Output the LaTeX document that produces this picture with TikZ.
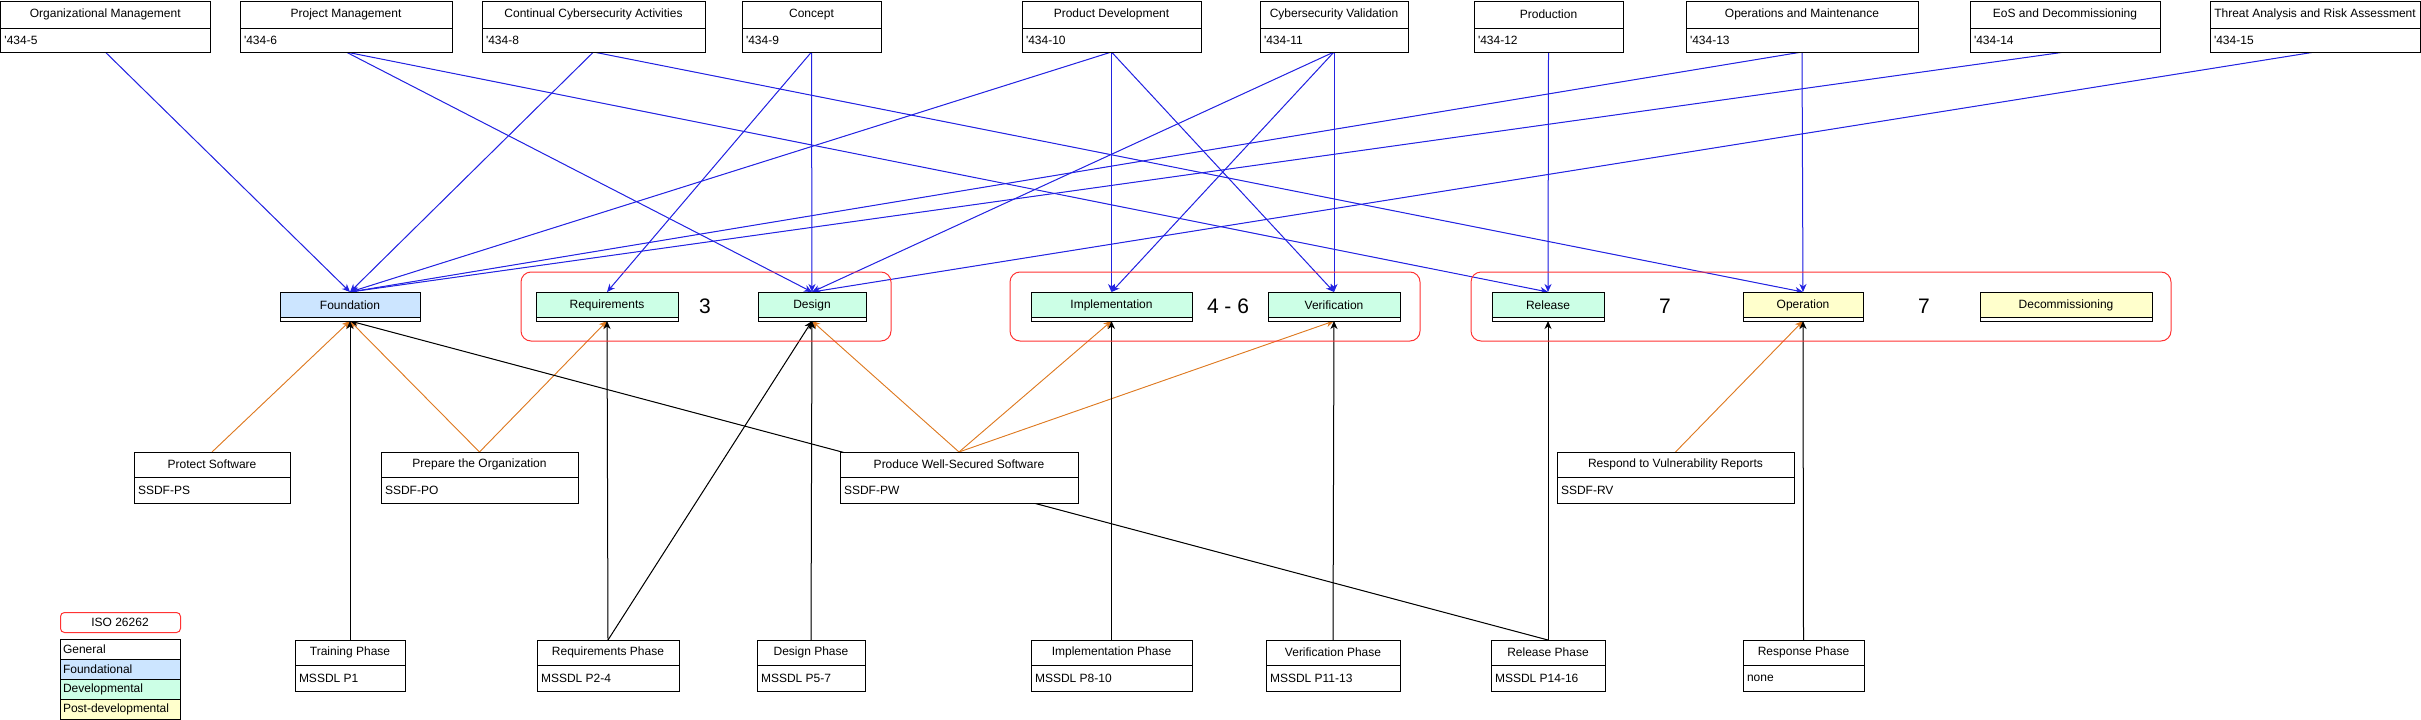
\documentclass[tikz,border=0pt]{standalone}
\usepackage{fontspec}
\setmainfont{Liberation Sans}[Ligatures=TeXOff]
\usetikzlibrary{arrows.meta}
\pgfdeclarelayer{background}
\pgfsetlayers{background,main}
\definecolor{fblue}{HTML}{CCE5FF}
\definecolor{fgreen}{HTML}{CCFFE6}
\definecolor{fyellow}{HTML}{FFFFCC}
\definecolor{gred}{HTML}{FF3333}
\definecolor{lblue}{RGB}{35,35,225}
\definecolor{lorange}{RGB}{222,122,34}
\tikzset{
  cell/.style={draw=black, line width=1pt, fill=white, inner sep=0pt, outer sep=0pt},
  txt/.style={inner sep=0pt, outer sep=0pt, font=\fontsize{12}{14}\selectfont},
  big/.style={inner sep=0pt, font=\fontsize{21}{24}\selectfont},
  grp/.style={draw=gred, line width=1pt, rounded corners=10pt, inner sep=0pt, outer sep=0pt},
  tip/.style={-{Stealth[length=8pt,width=7pt,inset=2.5pt]}},
  bl/.style={draw=lblue, line width=1pt, tip, fill=lblue},
  orl/.style={draw=lorange, line width=0.9pt, tip, fill=lorange},
  bkl/.style={draw=black, line width=1pt, tip, fill=black},
}
\newcommand\tbox[8]{%
  \pgfmathsetmacro\tbw{#3-#2}%
  \pgfmathsetmacro\tbh{#6-#4}%
  \pgfmathsetmacro\tbx{(#2+#3)/2}%
  \pgfmathsetmacro\tbya{(#4+#5)/2}%
  \pgfmathsetmacro\tbyb{(#5+#6)/2}%
  \node[cell, minimum width=\tbw pt, minimum height=\tbh pt, anchor=north west] (#1) at (#2,#4) {};
  \draw[line width=1pt] (#2,#5) -- (#3,#5);
  \node[txt] (#1-t) at (\tbx,\tbya) {#7};
  \node[txt, anchor=west] (#1-c) at (#2+4,\tbyb) {#8};
}
\newcommand\phbox[5]{%
  \pgfmathsetmacro\tbw{#3-#2}%
  \pgfmathsetmacro\tbx{(#2+#3)/2}%
  \node[cell, minimum width=\tbw pt, minimum height=29pt, anchor=north west] (#1) at (#2,292) {};
  \draw[line width=1pt, fill=#4] (#2,292) rectangle (#3,317);
  \node[txt] (#1-t) at (\tbx,305) {#5};
}
\newcommand\lgrow[4]{%
  \node[cell, fill=#3, minimum width=120pt, minimum height=20pt, anchor=north west] (#1) at (60,#2) {};
  \node[txt, anchor=west] (#1-t) at (63,#2+10) {#4};
}
\begin{document}
\begin{tikzpicture}[x=1pt,y=-1pt]
\useasboundingbox (0,0) rectangle (2421,720);
% groups
\node[grp, minimum width=370pt, minimum height=69pt, anchor=north west] (g1) at (521,272) {};
\node[grp, minimum width=410pt, minimum height=69pt, anchor=north west] (g2) at (1010,272) {};
\node[grp, minimum width=700pt, minimum height=69pt, anchor=north west] (g3) at (1471,272) {};
% top row
\tbox{org}{0.5}{210}{1}{28}{52}{Organizational Management}{'434-5}
\tbox{proj}{240}{452}{1}{28}{52}{Project Management}{'434-6}
\tbox{cont}{482}{705}{1}{28}{52}{Continual Cybersecurity Activities}{'434-8}
\tbox{concept}{742}{881}{1}{28}{52}{Concept}{'434-9}
\tbox{prod}{1022}{1201}{1}{28}{52}{Product Development}{'434-10}
\tbox{cyber}{1260}{1408}{1}{28}{52}{Cybersecurity Validation}{'434-11}
\tbox{production}{1474}{1623}{1}{28}{52}{Production}{'434-12}
\tbox{ops}{1686}{1918}{1}{28}{52}{Operations and Maintenance}{'434-13}
\tbox{eos}{1970}{2160}{1}{28}{52}{EoS and Decommissioning}{'434-14}
\tbox{tara}{2210}{2420}{1}{28}{52}{Threat Analysis and Risk Assessment}{'434-15}
% middle row
\phbox{found}{280}{420}{fblue}{Foundation}
\phbox{req}{536}{678}{fgreen}{Requirements}
\phbox{design}{758}{866}{fgreen}{Design}
\phbox{impl}{1031}{1192}{fgreen}{Implementation}
\phbox{verif}{1268}{1400}{fgreen}{Verification}
\phbox{release}{1492}{1604}{fgreen}{Release}
\phbox{oper}{1743}{1863}{fyellow}{Operation}
\phbox{decom}{1980}{2152}{fyellow}{Decommissioning}
\node[big] (n3) at (705,306) {3};
\node[big] (n46) at (1228,306) {4 - 6};
\node[big] (n7a) at (1665,306) {7};
\node[big] (n7b) at (1924,306) {7};
% SSDF row
\tbox{protect}{134}{290}{452}{477}{503}{Protect Software}{SSDF-PS}
\tbox{prepare}{381}{578}{452}{477}{503}{Prepare the Organization}{SSDF-PO}
\tbox{produce}{840}{1078}{452}{477}{503}{Produce Well-Secured Software}{SSDF-PW}
\tbox{respond}{1557}{1794}{452}{477}{503}{Respond to Vulnerability Reports}{SSDF-RV}
% phase row
\tbox{training}{295}{405}{640}{665}{691}{Training Phase}{MSSDL P1}
\tbox{reqph}{537}{679}{640}{665}{691}{Requirements Phase}{MSSDL P2-4}
\tbox{designph}{757}{865}{640}{665}{691}{Design Phase}{MSSDL P5-7}
\tbox{implph}{1031}{1192}{640}{665}{691}{Implementation Phase}{MSSDL P8-10}
\tbox{verifph}{1266}{1400}{640}{665}{691}{Verification Phase}{MSSDL P11-13}
\tbox{releaseph}{1491}{1605}{640}{665}{691}{Release Phase}{MSSDL P14-16}
\tbox{responseph}{1743}{1864}{640}{665}{691}{Response Phase}{none}
% legend
\node[draw=gred, line width=1pt, rounded corners=4pt, minimum width=120pt, minimum height=20pt, anchor=north west, inner sep=0pt] (iso) at (60,612) {};
\node[txt] (iso-t) at (120,622) {ISO 26262};
\lgrow{lg1}{639}{white}{General}
\lgrow{lg2}{659}{fblue}{Foundational}
\lgrow{lg3}{679}{fgreen}{Developmental}
\lgrow{lg4}{699}{fyellow}{Post-developmental}
% connectors
\begin{pgfonlayer}{background}
\foreach \a/\b in {org/found, proj/design, proj/release, cont/found, cont/oper,
  concept/req, concept/design, prod/found, prod/impl, prod/verif,
  cyber/design, cyber/impl, cyber/verif, production/release,
  ops/found, ops/oper, eos/found, tara/design}
  \draw[bl] (\a.south) -- (\b.north);
\foreach \a/\b in {protect/found, prepare/found, prepare/req, produce/design,
  produce/impl, produce/verif, respond/oper}
  \draw[orl] (\a.north) -- (\b.south);
\foreach \a/\b in {training/found, reqph/req, reqph/design, designph/design,
  implph/impl, verifph/verif, releaseph/release, releaseph/found, responseph/oper}
  \draw[bkl] (\a.north) -- (\b.south);
\end{pgfonlayer}
\end{tikzpicture}
\end{document}
